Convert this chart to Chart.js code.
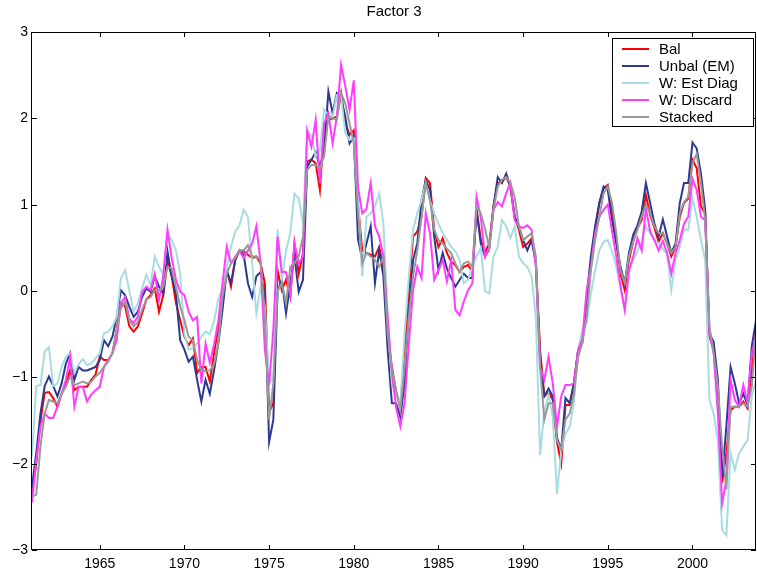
<!DOCTYPE html>
<html>
<head>
<meta charset="utf-8">
<title>Factor 3</title>
<script src="https://cdn.jsdelivr.net/npm/chart.js@4.4.1/dist/chart.umd.min.js"></script>
<style>
  html, body { margin: 0; padding: 0; background: #fff; }
  canvas { display: block; }
</style>
</head>
<body>
<canvas id="chart" width="757" height="575"></canvas>
<script>
// quarterly dates, 1961Q1 .. 2003Q4
const startYear = 1961;
const dates = Array.from({ length: 172 }, (_, i) => startYear + i / 4);

const xTicks = [1965, 1970, 1975, 1980, 1985, 1990, 1995, 2000];
const yTicks = [-3, -2, -1, 0, 1, 2, 3];

const seriesNames = ["Bal", "Unbal (EM)", "W: Est Diag", "W: Discard", "Stacked"];
const seriesColors = ["#ff0000", "#2c3a8e", "#a8dce2", "#ff3cff", "#999999"];

const bal = [
  -2.35, -2.00, -1.50, -1.18, -1.17, -1.24, -1.34, -1.19, -1.07, -0.92, -1.15, -1.11, -1.11, -1.11, -1.03, -0.97, -0.76, -0.80, -0.80, -0.72,
  -0.45, -0.14, -0.18, -0.41, -0.47, -0.41, -0.26, -0.10, -0.05, 0.03, -0.24, -0.05, 0.34, 0.17, -0.14, -0.34, -0.53, -0.63, -0.55,
  -0.95, -0.88, -0.88, -1.05, -0.72, -0.43, -0.14, 0.24, 0.05, 0.36, 0.47, 0.46, 0.42, 0.38, 0.40, 0.32, 0.09, -1.40, -1.30, 0.24,
  0.01, 0.13, -0.07, 0.55, 0.20, 0.44, 1.50, 1.52, 1.48, 1.17, 1.90, 1.98, 2.00, 2.02, 2.29, 1.94, 1.81, 1.86, 1.00, 0.47,
  0.44, 0.42, 0.40, 0.51, 0.28, -0.49, -0.88, -1.17, -1.34, -0.68, 0.01, 0.63, 0.69, 0.86, 1.31, 1.25, 0.71, 0.51, 0.61,
  0.44, 0.34, 0.30, 0.22, 0.28, 0.30, 0.22, 0.94, 0.60, 0.45, 0.55, 0.98, 1.25, 1.27, 1.32, 1.21, 0.86, 0.71, 0.51, 0.55,
  0.61, 0.36, -0.68, -1.22, -1.17, -1.26, -1.75, -2.00, -1.32, -1.32, -1.07, -0.68, -0.55, -0.18, 0.28, 0.71, 1.02, 1.19, 1.23,
  0.94, 0.59, 0.20, 0.01, 0.36, 0.57, 0.73, 0.82, 1.11, 0.88, 0.73, 0.57, 0.67, 0.55, 0.40, 0.51, 0.86, 1.02, 1.07, 1.52,
  1.42, 0.98, 0.90, -0.53, -0.68, -1.30, -2.22, -1.88, -1.38, -1.34, -1.34, -1.28, -1.36, -0.92, -0.45
];

const unbal = [
  -2.27, -1.88, -1.42, -1.10, -0.99, -1.10, -1.22, -1.07, -0.84, -0.72, -1.03, -0.88, -0.92, -0.92, -0.90, -0.88, -0.80, -0.57, -0.64, -0.53,
  -0.30, 0.01, -0.05, -0.18, -0.30, -0.24, -0.07, 0.03, -0.01, 0.17, 0.05, -0.03, 0.46, 0.17, -0.03, -0.57, -0.68, -0.82, -0.76,
  -1.03, -1.28, -1.03, -1.19, -0.92, -0.61, -0.22, 0.24, 0.09, 0.36, 0.47, 0.42, 0.09, -0.07, 0.17, 0.22, -0.07, -1.75, -1.49, 0.00,
  0.13, -0.26, 0.09, 0.40, -0.01, 0.13, 1.44, 1.52, 1.61, 1.44, 1.63, 2.31, 2.06, 2.29, 2.23, 2.02, 1.71, 1.79, 0.60, 0.36,
  0.55, 0.75, 0.09, 0.47, 0.17, -0.68, -1.30, -1.30, -1.46, -1.07, -0.22, 0.36, 0.55, 1.05, 1.29, 1.17, 0.63, 0.24, 0.44,
  0.26, 0.15, 0.05, 0.13, 0.20, 0.15, 0.15, 0.94, 0.55, 0.40, 0.49, 0.98, 1.32, 1.25, 1.36, 1.21, 0.86, 0.75, 0.59, 0.47,
  0.59, 0.32, -0.76, -1.22, -1.13, -1.22, -1.70, -1.84, -1.24, -1.30, -1.07, -0.68, -0.60, -0.07, 0.40, 0.75, 1.02, 1.21, 1.17,
  0.82, 0.55, 0.28, 0.09, 0.44, 0.65, 0.76, 0.92, 1.25, 1.02, 0.78, 0.63, 0.83, 0.63, 0.44, 0.55, 1.02, 1.25, 1.25, 1.72,
  1.65, 1.36, 0.94, -0.49, -0.59, -1.03, -2.15, -1.57, -0.88, -1.07, -1.30, -1.19, -1.32, -0.64, -0.34
];

const estDiag = [
  -1.92, -1.10, -1.09, -0.70, -0.65, -1.10, -1.07, -0.88, -0.76, -0.72, -0.95, -0.85, -0.79, -0.86, -0.84, -0.78, -0.72, -0.49, -0.47, -0.41,
  -0.30, 0.15, 0.24, 0.00, -0.24, -0.14, 0.03, 0.19, 0.07, 0.40, 0.28, 0.19, 0.67, 0.59, 0.47, 0.20, -0.50, -0.68, -0.66,
  -0.61, -0.53, -0.47, -0.50, -0.35, -0.10, 0.03, 0.28, 0.51, 0.69, 0.76, 0.94, 0.86, 0.32, -0.26, 0.05, -0.18, -1.07, -1.00, 0.71,
  0.13, 0.47, 0.67, 1.13, 1.07, 0.78, 1.86, 1.79, 1.56, 1.63, 2.10, 2.04, 2.02, 2.27, 2.25, 1.83, 1.75, 1.77, 1.09, 0.17,
  0.86, 0.90, 0.98, 1.13, 0.78, -0.30, -1.07, -1.22, -1.30, -0.49, 0.17, 0.71, 0.90, 1.05, 1.25, 1.05, 0.90, 0.78, 0.67,
  0.59, 0.51, 0.46, 0.36, 0.09, 0.13, 0.28, 0.40, 0.50, 0.00, -0.03, 0.40, 0.51, 0.82, 0.75, 0.61, 0.75, 0.40, 0.32, 0.28,
  0.17, -0.30, -1.90, -1.40, -1.20, -1.46, -2.35, -1.85, -1.65, -1.57, -1.30, -0.68, -0.45, -0.37, -0.03, 0.24, 0.47, 0.57, 0.59,
  0.46, 0.28, 0.05, -0.22, 0.22, 0.36, 0.46, 0.57, 0.75, 0.67, 0.59, 0.55, 0.49, 0.42, 0.01, 0.36, 0.51, 0.71, 0.71, 1.07,
  0.86, 0.59, 0.36, -1.26, -1.42, -1.73, -2.77, -2.83, -1.88, -2.07, -1.88, -1.80, -1.73, -1.22, -1.03
];

const discard = [
  -2.45, -1.96, -1.57, -1.42, -1.47, -1.47, -1.34, -1.19, -1.03, -0.76, -1.34, -1.11, -1.11, -1.28, -1.20, -1.15, -1.11, -0.88, -0.80, -0.72,
  -0.57, -0.14, -0.07, -0.32, -0.37, -0.30, -0.01, 0.05, 0.01, 0.20, -0.10, 0.17, 0.71, 0.38, 0.13, -0.01, -0.05, -0.24, -0.34,
  -0.30, -1.07, -0.61, -0.83, -0.62, -0.35, 0.09, 0.51, 0.32, 0.38, 0.47, 0.38, 0.47, 0.55, 0.75, 0.32, -0.68, -1.09, -0.45, 0.63,
  0.22, 0.22, -0.05, 0.55, 0.32, 0.40, 1.86, 1.67, 1.98, 1.25, 1.94, 2.06, 1.71, 2.02, 2.62, 2.37, 2.10, 2.44, 1.20, 0.90,
  0.95, 1.25, 0.75, 0.63, 0.40, -0.30, -0.95, -1.35, -1.57, -1.30, -0.61, 0.01, 0.28, 0.15, 0.90, 0.67, 0.13, 0.24, 0.36,
  0.11, 0.36, -0.22, -0.28, -0.12, 0.01, 0.09, 1.09, 0.85, 0.40, 0.50, 0.94, 1.03, 0.98, 1.13, 1.25, 0.82, 0.75, 0.73, 0.76,
  0.71, 0.28, -0.88, -1.03, -0.76, -1.07, -1.57, -1.22, -1.09, -1.09, -1.07, -0.68, -0.55, 0.01, 0.28, 0.67, 0.86, 0.94, 1.00,
  0.69, 0.40, 0.05, -0.22, 0.24, 0.40, 0.61, 0.47, 0.96, 0.69, 0.59, 0.47, 0.58, 0.44, 0.20, 0.44, 0.59, 0.78, 0.86, 1.30,
  1.17, 0.86, 0.82, -0.49, -0.72, -1.42, -2.46, -2.19, -1.03, -1.26, -1.34, -1.09, -1.30, -0.72, -0.53
];

const stacked = [
  -2.38, -2.36, -1.80, -1.42, -1.26, -1.28, -1.30, -1.19, -1.11, -0.99, -1.09, -1.07, -1.05, -1.07, -1.05, -0.99, -0.95, -0.88, -0.82, -0.72,
  -0.45, -0.20, -0.12, -0.34, -0.41, -0.36, -0.22, -0.10, -0.07, 0.01, 0.01, 0.05, 0.28, 0.26, 0.05, -0.18, -0.34, -0.53, -0.57,
  -0.80, -0.92, -0.93, -0.92, -0.85, -0.61, -0.07, 0.20, 0.32, 0.40, 0.47, 0.47, 0.53, 0.40, 0.40, 0.36, -0.30, -1.49, -1.07, 0.01,
  0.09, -0.14, 0.28, 0.32, 0.40, 0.63, 1.40, 1.46, 1.46, 1.42, 1.56, 2.02, 2.00, 1.98, 2.29, 2.17, 1.94, 1.71, 0.90, 0.32,
  0.44, 0.40, 0.36, 0.28, 0.40, -0.49, -0.92, -1.15, -1.38, -0.88, -0.30, 0.17, 0.47, 0.86, 1.25, 1.05, 0.71, 0.59, 0.55,
  0.49, 0.44, 0.32, 0.22, 0.32, 0.34, 0.28, 0.98, 0.90, 0.72, 0.50, 0.94, 1.21, 1.29, 1.32, 1.25, 1.09, 0.75, 0.59, 0.63,
  0.67, 0.40, -0.88, -1.49, -1.30, -1.30, -1.73, -1.84, -1.49, -1.42, -1.19, -0.76, -0.60, -0.30, 0.24, 0.59, 0.86, 1.13, 1.21,
  1.02, 0.67, 0.24, 0.09, 0.40, 0.57, 0.71, 0.86, 1.00, 0.90, 0.75, 0.67, 0.67, 0.55, 0.44, 0.51, 0.90, 1.03, 1.09, 1.48,
  1.59, 1.25, 0.82, -0.41, -0.72, -1.11, -1.80, -2.30, -1.34, -1.34, -1.34, -1.30, -1.34, -1.11, -0.49
];

const allSeries = [bal, unbal, estDiag, discard, stacked];
const FONT = '"Liberation Sans", Arial, Helvetica, sans-serif';

// box, inward ticks, title and boxed legend drawn like the matlab figure
const figurePlugin = {
  id: "figure",
  afterDraw(chart) {
    const { ctx, chartArea: a, scales } = chart;
    const xs = scales.x, ys = scales.y;
    ctx.save();
    ctx.strokeStyle = "#000";
    ctx.lineWidth = 1;
    ctx.strokeRect(Math.round(a.left) - 0.5, Math.round(a.top) + 0.5,
      Math.round(a.right - a.left), Math.round(a.bottom - a.top) - 1);

    const tl = 5;
    ctx.beginPath();
    xTicks.forEach((v) => {
      const px = Math.round(xs.getPixelForValue(v)) + 0.5;
      ctx.moveTo(px, a.bottom); ctx.lineTo(px, a.bottom - tl);
      ctx.moveTo(px, a.top); ctx.lineTo(px, a.top + tl);
    });
    yTicks.forEach((v) => {
      const py = Math.round(ys.getPixelForValue(v)) + 0.5;
      ctx.moveTo(a.left, py); ctx.lineTo(a.left + tl, py);
      ctx.moveTo(a.right, py); ctx.lineTo(a.right - tl, py);
    });
    ctx.stroke();

    // title
    ctx.fillStyle = "#000";
    ctx.font = "15px " + FONT;
    ctx.textAlign = "center";
    ctx.textBaseline = "middle";
    ctx.fillText("Factor 3", (a.left + a.right) / 2, 12);

    // legend
    const lx = 612.5, ly = 38.5, lw = 141, lh = 88;
    ctx.fillStyle = "#fff";
    ctx.fillRect(lx, ly, lw, lh);
    ctx.strokeRect(lx, ly, lw, lh);
    ctx.font = "15px " + FONT;
    ctx.textAlign = "left";
    seriesNames.forEach((name, i) => {
      const ry = 49 + i * 17;
      ctx.strokeStyle = seriesColors[i];
      ctx.lineWidth = 2;
      ctx.beginPath();
      ctx.moveTo(622, ry); ctx.lineTo(649, ry);
      ctx.stroke();
      ctx.fillStyle = "#000";
      ctx.fillText(name, 659, ry + 1);
    });
    ctx.restore();
  },
};

new Chart(document.getElementById("chart"), {
  type: "line",
  data: {
    datasets: allSeries.map((vals, i) => ({
      label: seriesNames[i],
      data: vals.map((v, k) => ({ x: dates[k], y: v })),
      borderColor: seriesColors[i],
      borderWidth: 2,
      pointRadius: 0,
      tension: 0,
      fill: false,
      order: allSeries.length - i,
    })),
  },
  options: {
    responsive: false,
    animation: false,
    devicePixelRatio: 1,
    layout: { padding: { top: 32, right: 1, left: 0, bottom: 0 } },
    plugins: {
      legend: { display: false },
      title: { display: false },
      tooltip: { enabled: false },
    },
    scales: {
      x: {
        type: "linear",
        min: startYear,
        max: 2003.75,
        grid: { display: false, drawTicks: false },
        border: { display: false },
        ticks: {
          color: "#000",
          font: { family: FONT, size: 14 },
          padding: 6,
          maxRotation: 0,
          autoSkip: false,
          callback: (v) => String(v),
        },
        afterBuildTicks: (s) => { s.ticks = xTicks.map((v) => ({ value: v })); },
        afterFit: (s) => { s.height = 25; },
      },
      y: {
        min: -3,
        max: 3,
        grid: { display: false, drawTicks: false },
        border: { display: false },
        ticks: {
          color: "#000",
          font: { family: FONT, size: 14 },
          padding: 4,
          callback: (v) => String(v).replace("-", "\u2212"),
        },
        afterBuildTicks: (s) => { s.ticks = yTicks.map((v) => ({ value: v })); },
        afterFit: (s) => { s.width = 32; },
      },
    },
  },
  plugins: [figurePlugin],
});
</script>
</body>
</html>
